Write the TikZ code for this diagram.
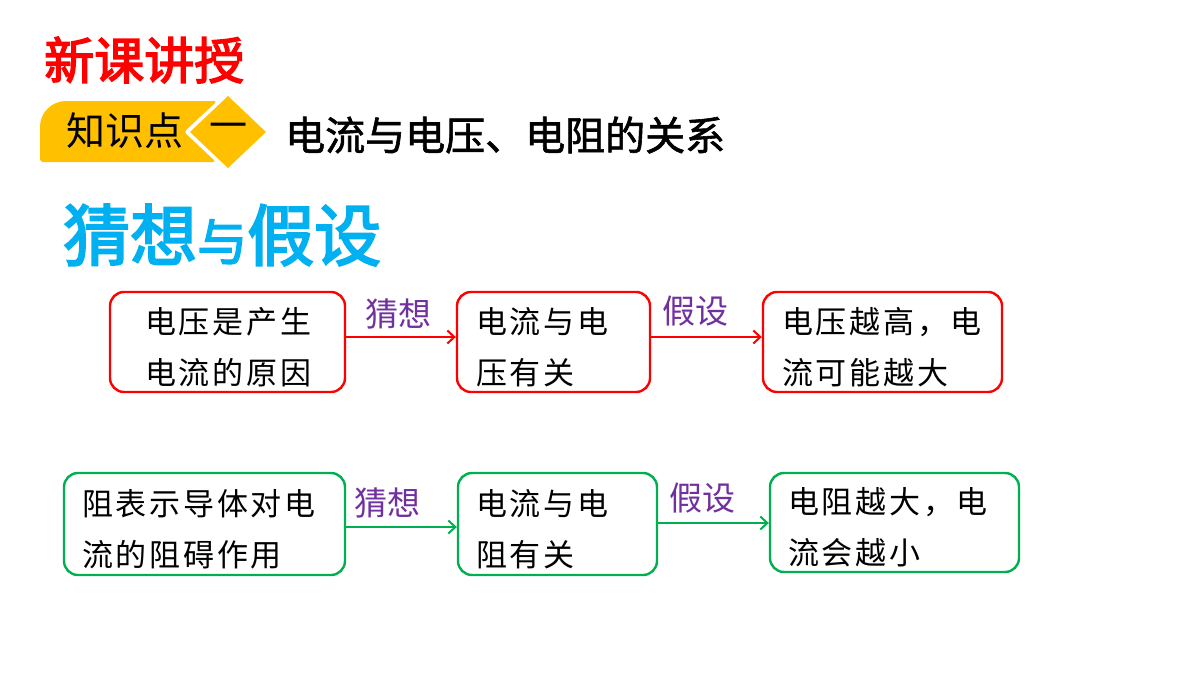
\documentclass[tikz,border=0pt]{standalone}
\usepackage{fontspec}
\usetikzlibrary{arrows.meta}
\newfontfamily\cjk{Noto Sans CJK SC}
\newfontfamily\cjkbox[LetterSpace=9]{Noto Sans CJK SC}
\newfontfamily\cjkbf[FakeBold=1.5]{Noto Sans CJK SC}
\newfontfamily\cjkbfx[FakeBold=3]{Noto Sans CJK SC}
\newcommand\topstrut{\rule{0pt}{36pt}}
\definecolor{boxred}{HTML}{FF0000}
\definecolor{boxgreen}{HTML}{00B050}
\definecolor{lblpurple}{HTML}{7030A0}
\definecolor{titlecyan}{HTML}{00B0F0}
\definecolor{tabyellow}{HTML}{FFC000}
\tikzset{
  box/.style={draw, rounded corners=14pt, line width=2.4pt, align=left,
    font=\fontsize{31pt}{51pt}\selectfont\cjkbox, inner xsep=0pt, inner ysep=0pt},
  rbox/.style={box, draw=boxred},
  gbox/.style={box, draw=boxgreen},
  lbl/.style={font=\fontsize{33pt}{33pt}\selectfont\cjk, text=lblpurple, inner sep=0pt},
  rarrow/.style={draw=boxred, line width=2.4pt, -{Straight Barb[length=7pt,width=13pt,line width=2pt]}},
  garrow/.style={draw=boxgreen, line width=2.4pt, -{Straight Barb[length=7pt,width=13pt,line width=2pt]}},
}
\begin{document}
\begin{tikzpicture}[x=1pt,y=-1pt]
\useasboundingbox (0,0) rectangle (1200,675);
\fill[white] (0,0) rectangle (1200,675);

% header
\node[anchor=west, inner sep=0pt, text=boxred, font=\fontsize{50pt}{50pt}\selectfont\cjkbfx] (hdr) at (44,60) {新课讲授};

% yellow tab
\fill[tabyellow] (40,162) [rounded corners=26pt] -- (40,101) [rounded corners=3pt] -- (217,101) -- (184,132) -- (216,162) -- cycle;
\fill[tabyellow] (228,96) -- (266,132) -- (228,168) -- (190,132) -- cycle;
\node[anchor=west, inner sep=0pt, font=\fontsize{39pt}{39pt}\selectfont\cjk] (kp) at (66,131) {知识点};
\node[inner sep=0pt, font=\fontsize{38pt}{38pt}\selectfont\cjk] (one) at (228,131) {一};
\node[anchor=west, inner sep=0pt, font=\fontsize{40pt}{40pt}\selectfont\cjkbf] (topic) at (285,135) {电流与电压、电阻的关系};

% cyan title
\node[anchor=west, inner sep=0pt, text=titlecyan] (title) at (63,235)
  {\fontsize{67pt}{67pt}\selectfont\cjkbfx 猜想\fontsize{50pt}{50pt}\selectfont 与\fontsize{67pt}{67pt}\selectfont 假设};

% row 1
\node[rbox, minimum width=235, minimum height=100, text width=165] (A1) at (227.5,342) {\topstrut 电压是产生\\电流的原因};
\node[rbox, minimum width=193, minimum height=100, text width=155] (A2) at (553.5,342) {\topstrut 电流与电\\压有关};
\node[rbox, minimum width=239, minimum height=100, text width=201] (A3) at (882.5,342) {\topstrut 电压越高，电\\流可能越大};
\draw[rarrow] ([yshift=5pt]A1.east) -- node[lbl, yshift=23pt, pos=0.48] (L1) {猜想} ([yshift=5pt]A2.west);
\draw[rarrow] ([yshift=5pt]A2.east) -- node[lbl, yshift=26pt, pos=0.4] (L2) {假设} ([yshift=5pt]A3.west);

% row 2
\node[gbox, minimum width=281, minimum height=102, text width=245] (B1) at (204.5,524) {\topstrut 阻表示导体对电\\流的阻碍作用};
\node[gbox, minimum width=199, minimum height=102, text width=163] (B2) at (557.5,524) {\topstrut 电流与电\\阻有关};
\node[gbox, minimum width=249, minimum height=99, text width=213] (B3) at (894.5,522.5) {\topstrut 电阻越大，电\\流会越小};
\draw[garrow] ([yshift=-3pt]B1.east) -- node[lbl, yshift=24pt, pos=0.37] (L3) {猜想} ([yshift=-3pt]B2.west);
\draw[garrow] ([yshift=1pt]B2.east) -- node[lbl, yshift=25pt, pos=0.4] (L4) {假设} ([yshift=1pt]B2.east -| B3.west);
\end{tikzpicture}
\end{document}
